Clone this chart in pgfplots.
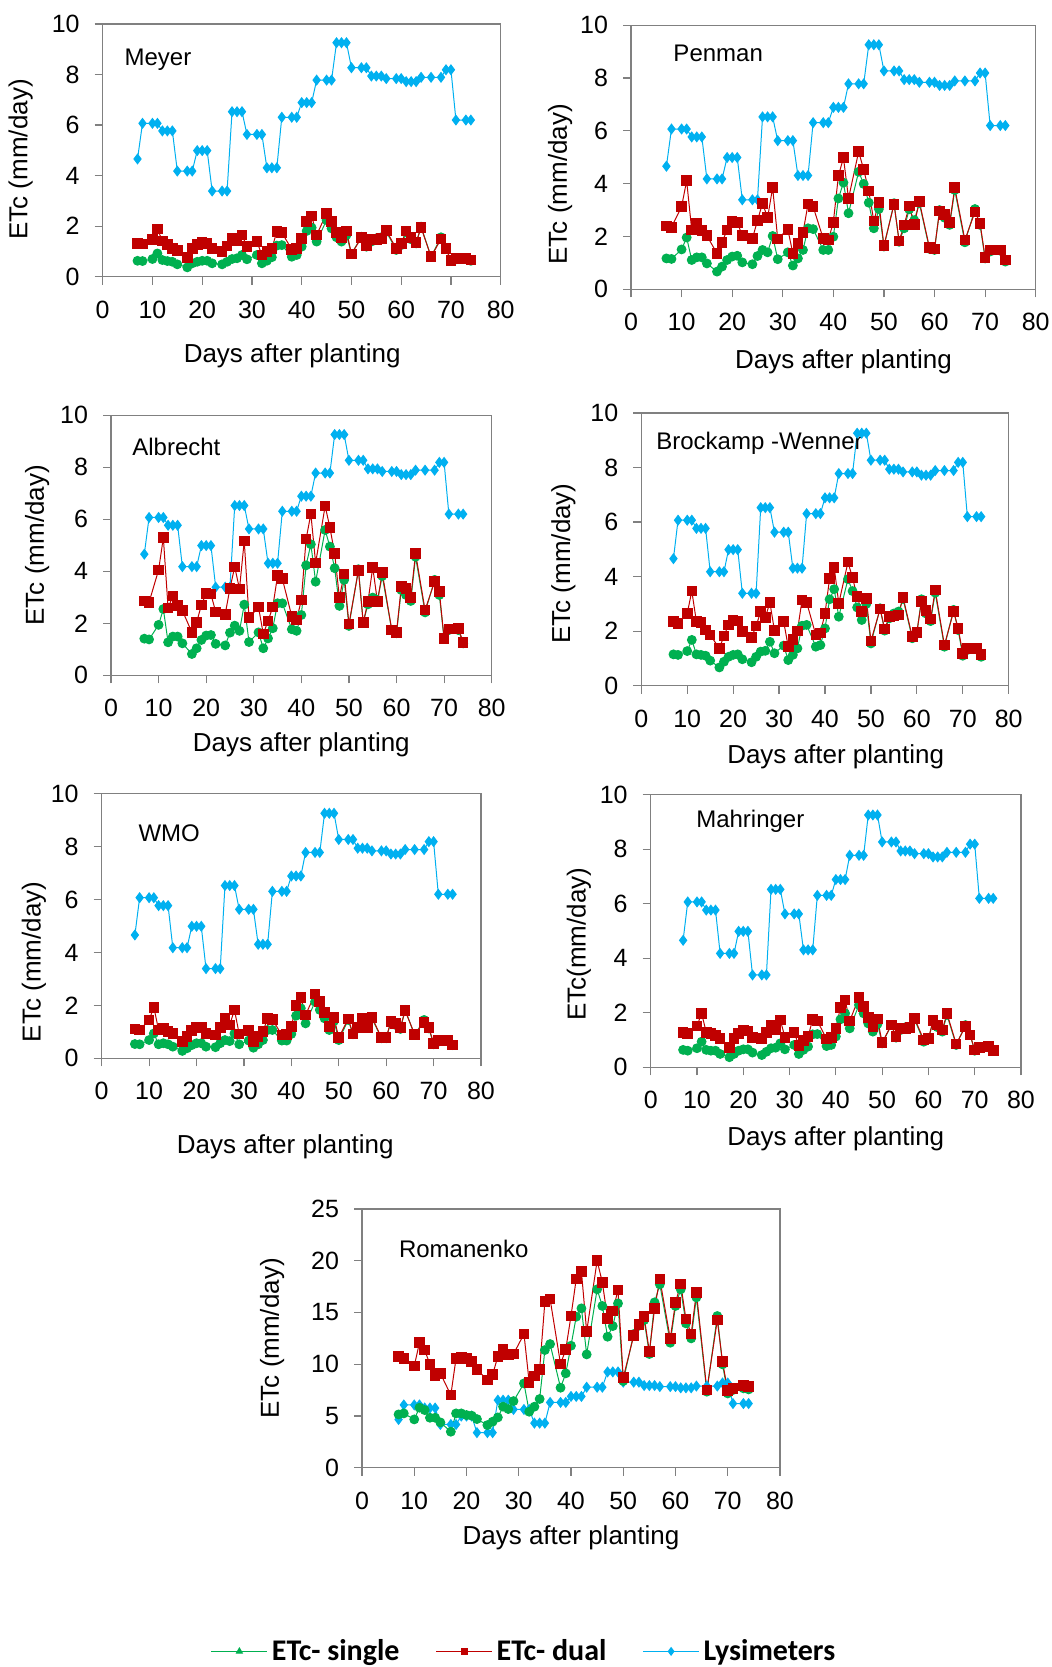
\documentclass[border=0pt]{standalone}
\usepackage{fontspec}
\setmainfont{Liberation Sans}
\newfontfamily\legfont{Carlito}
\usepackage{pgfplots}
\usepackage{pgfplotstable}
\pgfplotsset{compat=1.18}
\definecolor{cg}{RGB}{0,176,80}
\definecolor{cr}{RGB}{192,0,0}
\definecolor{cb}{RGB}{0,176,240}
\definecolor{fr}{RGB}{128,128,128}

\pgfplotstableread{
day lys
7 4.66
8 6.07
10 6.07
11 6.07
12 5.77
13 5.77
14 5.77
15 4.18
17 4.18
18 4.18
19 4.99
20 4.99
21 4.99
22 3.39
24 3.39
25 3.39
26 6.53
27 6.53
28 6.53
29 5.63
31 5.63
32 5.63
33 4.31
34 4.31
35 4.31
36 6.31
38 6.31
39 6.31
40 6.89
41 6.89
42 6.89
43 7.78
45 7.78
46 7.78
47 9.26
48 9.26
49 9.26
50 8.27
52 8.27
53 8.27
54 7.94
55 7.94
56 7.94
57 7.84
59 7.84
60 7.84
61 7.72
62 7.72
63 7.72
64 7.89
66 7.89
68 7.89
69 8.19
70 8.19
71 6.20
73 6.20
74 6.20
}\lystab

\pgfplotstableread{
day s d
7 0.63 1.32
8 0.62 1.29
10 0.70 1.48
11 0.92 1.89
12 0.66 1.41
13 0.62 1.28
14 0.59 1.12
15 0.49 1.03
17 0.37 0.77
18 0.53 1.12
19 0.59 1.28
20 0.63 1.35
21 0.63 1.32
22 0.53 1.12
24 0.49 0.99
25 0.59 1.21
26 0.70 1.52
27 0.73 1.42
28 0.86 1.65
29 0.69 1.19
31 0.86 1.39
32 0.53 0.86
33 0.63 0.99
34 0.77 1.12
35 1.23 1.78
36 1.25 1.75
38 0.79 1.08
39 0.86 1.12
40 1.19 1.52
41 1.81 2.18
42 1.94 2.41
43 1.39 1.65
45 2.24 2.51
46 1.91 2.18
47 1.56 1.75
48 1.39 1.56
49 1.65 1.81
50 0.90 0.90
52 1.58 1.54
53 1.19 1.23
54 1.39 1.48
55 1.52 1.45
56 1.56 1.52
57 1.78 1.82
59 1.06 1.12
60 1.25 1.32
61 1.75 1.81
62 1.48 1.54
63 1.32 1.36
64 1.98 1.95
66 0.79 0.79
68 1.56 1.49
69 1.12 1.12
70 0.63 0.63
71 0.69 0.73
73 0.73 0.73
74 0.63 0.66
}\meyer

\pgfplotstableread{
day s d
7 1.17 2.40
8 1.15 2.35
10 1.51 3.13
11 1.96 4.11
12 1.11 2.25
13 1.21 2.50
14 1.21 2.22
15 0.98 2.03
17 0.67 1.36
18 0.86 1.78
19 1.11 2.25
20 1.24 2.57
21 1.27 2.54
22 1.02 2.03
24 0.95 1.92
25 1.26 2.60
26 1.49 3.26
27 1.40 2.71
28 2.02 3.85
29 1.14 1.91
31 1.40 2.27
32 0.90 1.36
33 1.17 1.74
34 1.49 2.15
35 2.31 3.23
36 2.28 3.13
38 1.49 1.92
39 1.49 1.87
40 1.99 2.54
41 3.44 4.30
42 4.04 4.98
43 2.88 3.44
45 4.45 5.21
46 3.99 4.54
47 3.28 3.72
48 2.31 2.59
49 3.04 3.28
50 1.62 1.65
52 3.26 3.22
53 1.80 1.83
54 2.31 2.44
55 3.03 3.15
56 2.62 2.46
57 3.26 3.32
59 1.53 1.58
60 1.49 1.53
61 3.00 2.97
62 2.71 2.84
63 2.44 2.52
64 3.76 3.85
66 1.78 1.87
68 3.04 2.93
69 2.44 2.50
70 1.17 1.21
71 1.43 1.49
73 1.46 1.49
74 1.05 1.11
}\penman

\pgfplotstableread{
day s d
7 1.41 2.86
8 1.38 2.81
10 1.94 4.05
11 2.55 5.29
12 1.27 2.59
13 1.49 3.05
14 1.49 2.68
15 1.23 2.49
17 0.82 1.65
18 1.04 2.04
19 1.36 2.71
20 1.53 3.15
21 1.55 3.12
22 1.21 2.44
24 1.15 2.35
25 1.64 3.35
26 1.91 4.17
27 1.71 3.32
28 2.72 5.17
29 1.28 2.22
31 1.65 2.62
32 1.04 1.59
33 1.42 2.09
34 1.81 2.63
35 2.77 3.83
36 2.77 3.72
38 1.77 2.26
39 1.71 2.13
40 2.32 2.90
41 4.23 5.24
42 5.04 6.21
43 3.60 4.32
45 5.59 6.51
46 4.95 5.69
47 4.12 4.68
48 2.67 2.99
49 3.67 3.90
50 1.90 1.97
52 4.08 4.03
53 2.03 2.03
54 2.73 2.83
55 2.99 4.15
56 2.90 2.83
57 3.82 3.95
59 1.74 1.74
60 1.62 1.65
61 3.28 3.41
62 3.09 3.33
63 2.86 3.00
64 4.56 4.69
66 2.42 2.51
68 3.67 3.60
69 3.09 3.22
70 1.40 1.42
71 1.74 1.78
73 1.74 1.81
74 1.23 1.27
}\albrecht

\pgfplotstableread{
day s d
7 1.15 2.35
8 1.13 2.29
10 1.27 2.65
11 1.68 3.47
12 1.15 2.35
13 1.13 2.31
14 1.10 2.04
15 0.92 1.86
17 0.67 1.37
18 0.88 1.83
19 1.06 2.23
20 1.13 2.41
21 1.15 2.37
22 0.97 1.98
24 0.86 1.77
25 1.06 2.19
26 1.25 2.72
27 1.28 2.50
28 1.61 3.05
29 1.19 2.02
31 1.47 2.35
32 0.94 1.43
33 1.13 1.70
34 1.37 2.01
35 2.20 3.14
36 2.23 3.06
38 1.43 1.86
39 1.49 1.94
40 2.10 2.65
41 3.17 3.93
42 3.54 4.34
43 2.53 3.02
45 3.91 4.53
46 3.47 3.96
47 2.87 3.27
48 2.41 2.72
49 3.00 3.20
50 1.55 1.64
52 2.84 2.81
53 2.02 2.08
54 2.47 2.53
55 2.65 2.56
56 2.72 2.59
57 3.18 3.24
59 1.74 1.80
60 1.92 1.96
61 3.17 3.08
62 2.65 2.75
63 2.37 2.45
64 3.41 3.51
66 1.43 1.49
68 2.78 2.72
69 2.04 2.10
70 1.10 1.19
71 1.31 1.37
73 1.33 1.37
74 1.06 1.15
}\brockamp

\pgfplotstableread{
day s d
7 0.54 1.11
8 0.53 1.07
10 0.69 1.45
11 0.94 1.93
12 0.53 1.07
13 0.57 1.13
14 0.53 1.01
15 0.44 0.94
17 0.28 0.63
18 0.38 0.82
19 0.50 1.05
20 0.57 1.17
21 0.57 1.17
22 0.44 0.94
24 0.42 0.88
25 0.57 1.17
26 0.69 1.51
27 0.65 1.26
28 0.94 1.83
29 0.53 0.92
31 0.67 1.05
32 0.40 0.63
33 0.53 0.82
34 0.69 1.01
35 1.07 1.51
36 1.07 1.47
38 0.67 0.88
39 0.67 0.91
40 0.92 1.20
41 1.61 1.99
42 1.89 2.30
43 1.32 1.64
45 2.14 2.43
46 1.83 2.14
47 1.51 1.74
48 1.07 1.20
49 1.41 1.54
50 0.69 0.78
52 1.45 1.49
53 0.91 0.92
54 1.13 1.17
55 1.41 1.51
56 1.32 1.17
57 1.51 1.55
59 0.76 0.78
60 0.76 0.79
61 1.36 1.39
62 1.26 1.32
63 1.11 1.17
64 1.83 1.80
66 0.88 0.91
68 1.45 1.36
69 1.13 1.17
70 0.53 0.57
71 0.63 0.67
73 0.67 0.67
74 0.50 0.50
}\wmo

\pgfplotstableread{
day s d
7 0.64 1.28
8 0.61 1.25
10 0.70 1.52
11 0.94 1.98
12 0.64 1.28
13 0.61 1.25
14 0.61 1.16
15 0.49 1.06
17 0.37 0.73
18 0.49 1.06
19 0.61 1.25
20 0.66 1.35
21 0.66 1.33
22 0.54 1.10
24 0.45 1.06
25 0.57 1.27
26 0.70 1.53
27 0.72 1.37
28 0.88 1.74
29 0.66 1.10
31 0.82 1.28
32 0.49 0.80
33 0.64 0.98
34 0.76 1.13
35 1.21 1.76
36 1.22 1.70
38 0.78 1.04
39 0.82 1.10
40 1.13 1.43
41 1.76 2.20
42 1.98 2.47
43 1.43 1.70
45 2.29 2.57
46 1.98 2.23
47 1.61 1.83
48 1.31 1.49
49 1.59 1.77
50 0.88 0.91
52 1.55 1.55
53 1.09 1.13
54 1.37 1.43
55 1.47 1.43
56 1.49 1.47
57 1.76 1.80
59 0.94 1.00
60 1.03 1.06
61 1.68 1.71
62 1.47 1.55
63 1.31 1.37
64 1.92 1.98
66 0.82 0.86
68 1.55 1.49
69 1.19 1.19
70 0.61 0.64
71 0.70 0.73
73 0.73 0.76
74 0.61 0.61
}\mahringer

\pgfplotstableread{
day s d
7 5.15 10.73
8 5.25 10.57
10 4.67 9.83
11 5.80 12.08
12 5.57 11.37
13 4.83 9.99
14 4.83 8.89
15 4.38 9.12
17 3.48 7.02
18 5.25 10.57
19 5.25 10.66
20 5.09 10.57
21 5.03 10.24
22 4.70 9.50
24 4.12 8.47
25 4.45 9.02
26 4.86 10.73
27 5.90 11.47
28 5.67 10.89
29 6.44 10.99
31 8.15 12.92
32 5.41 8.25
33 5.90 8.86
34 6.64 9.50
35 11.37 16.04
36 11.95 16.30
38 7.73 10.02
39 9.12 11.44
40 11.79 14.66
41 14.59 18.23
42 15.40 18.94
43 10.95 13.14
45 17.24 20.01
46 15.63 17.91
47 12.66 14.43
48 13.69 15.14
49 15.88 17.17
50 8.38 8.70
52 12.92 12.76
53 13.72 13.85
54 14.27 14.59
55 10.99 11.21
56 15.98 15.40
57 17.72 18.23
59 12.08 12.47
60 15.63 15.95
61 17.24 17.75
62 13.95 14.37
63 12.50 12.92
64 16.46 16.95
66 7.35 7.51
68 14.66 14.27
69 9.99 10.24
70 7.18 7.44
71 7.51 7.67
73 7.67 7.93
74 7.57 7.83
}\romanenko

\pgfplotsset{
  panel/.style={
    scale only axis, xmin=0, xmax=80, ymin=0, ymax=10,
    xtick={0,10,...,80}, ytick={0,2,...,10},
    tick pos=left, tick align=outside, major tick length=4pt,
    axis line style={fr, line width=0.6pt},
    every tick/.style={fr, line width=0.6pt},
    /pgf/number format/assume math mode=true,
    tick label style={font=\fontsize{12.5}{14}\selectfont},
    xticklabel style={yshift=-4.5pt}, yticklabel style={xshift=-4pt},
    label style={font=\fontsize{13}{15}\selectfont},
    xlabel={Days after planting}, ylabel={ETc (mm/day)},
    anchor=south west,
  },
  lys/.style={cb, line width=0.5pt, mark=diamond*, mark size=2.4pt, mark options={solid}},
  sgl/.style={cg, line width=0.5pt, mark=*, mark size=2.2pt, mark options={solid}},
  dul/.style={cr, line width=0.5pt, mark=square*, mark size=2.4pt, mark options={solid}},
}
\tikzset{lbl/.style={anchor=west, font=\fontsize{12}{14}\selectfont, inner sep=0pt}}

\begin{document}
\begin{tikzpicture}
\path[use as bounding box] (0,0) rectangle (525.5pt,-833.5pt);

% Meyer
\begin{axis}[panel, at={(51.35pt,-138.35pt)}, width=199pt, height=126.35pt,
  xlabel style={at={(axis description cs:0.476,-0.314)}, anchor=center},
  ylabel style={at={(axis description cs:-0.206,0.464)}, anchor=center}]
\addplot[lys] table[x=day,y=lys]{\lystab};
\addplot[sgl] table[x=day,y=s]{\meyer};
\addplot[dul] table[x=day,y=d]{\meyer};
\node[lbl] at (rel axis cs:0.054,0.86) {Meyer};
\end{axis}

% Penman
\begin{axis}[panel, at={(315.5pt,-144.65pt)}, width=202.35pt, height=132.05pt,
  xlabel style={at={(axis description cs:0.525,-0.273)}, anchor=center},
  ylabel style={at={(axis description cs:-0.175,0.398)}, anchor=center}]
\addplot[lys] table[x=day,y=lys]{\lystab};
\addplot[sgl] table[x=day,y=s]{\penman};
\addplot[dul] table[x=day,y=d]{\penman};
\node[lbl] at (rel axis cs:0.104,0.895) {Penman};
\end{axis}

% Albrecht
\begin{axis}[panel, at={(55.5pt,-337.65pt)}, width=190.35pt, height=130pt,
  xlabel style={at={(axis description cs:0.5,-0.268)}, anchor=center},
  ylabel style={at={(axis description cs:-0.194,0.5)}, anchor=center}]
\addplot[lys] table[x=day,y=lys]{\lystab};
\addplot[sgl] table[x=day,y=s]{\albrecht};
\addplot[dul] table[x=day,y=d]{\albrecht};
\node[lbl] at (rel axis cs:0.055,0.88) {Albrecht};
\end{axis}

% Brockamp-Wenner
\begin{axis}[panel, at={(320.65pt,-342.85pt)}, width=183.7pt, height=136.35pt,
  xlabel style={at={(axis description cs:0.529,-0.261)}, anchor=center},
  ylabel style={at={(axis description cs:-0.212,0.448)}, anchor=center}]
\addplot[lys] table[x=day,y=lys]{\lystab};
\addplot[sgl] table[x=day,y=s]{\brockamp};
\addplot[dul] table[x=day,y=d]{\brockamp};
\node[lbl] at (rel axis cs:0.04,0.89) {Brockamp -Wenner};
\end{axis}

% WMO
\begin{axis}[panel, at={(50.85pt,-529.15pt)}, width=189.65pt, height=132.3pt,
  xlabel style={at={(axis description cs:0.484,-0.335)}, anchor=center},
  ylabel style={at={(axis description cs:-0.179,0.364)}, anchor=center}]
\addplot[lys] table[x=day,y=lys]{\lystab};
\addplot[sgl] table[x=day,y=s]{\wmo};
\addplot[dul] table[x=day,y=d]{\wmo};
\node[lbl] at (rel axis cs:0.096,0.851) {WMO};
\end{axis}

% Mahringer
\begin{axis}[panel, at={(325.35pt,-533.65pt)}, width=185.15pt, height=136.25pt,
  ylabel={ETc(mm/day)},
  xlabel style={at={(axis description cs:0.5,-0.262)}, anchor=center},
  ylabel style={at={(axis description cs:-0.194,0.452)}, anchor=center}]
\addplot[lys] table[x=day,y=lys]{\lystab};
\addplot[sgl] table[x=day,y=s]{\mahringer};
\addplot[dul] table[x=day,y=d]{\mahringer};
\node[lbl] at (rel axis cs:0.122,0.902) {Mahringer};
\end{axis}

% Romanenko
\begin{axis}[panel, at={(181pt,-733.85pt)}, width=209pt, height=129.35pt,
  ymax=25, ytick={0,5,...,25},
  xlabel style={at={(axis description cs:0.5,-0.272)}, anchor=center},
  ylabel style={at={(axis description cs:-0.215,0.5)}, anchor=center},
  legend columns=3,
  legend image code/.code={\draw[mark repeat=2,mark phase=2,#1] plot coordinates {(0pt,0pt)(14pt,0pt)(28pt,0pt)};},
  legend style={draw=none, fill=none, at={(axis description cs:0.39,-0.71)}, anchor=center,
    inner sep=0pt, font=\legfont\bfseries\fontsize{15}{17}\selectfont,
    /tikz/every even column/.append style={column sep=16pt}}]
\addlegendimage{cg, line width=0.6pt, mark=triangle*, mark size=1.6pt, mark options={solid}}
\addlegendentry{ETc- single}
\addlegendimage{cr, line width=0.6pt, mark=square*, mark size=1.5pt, mark options={solid}}
\addlegendentry{ETc- dual}
\addlegendimage{cb, line width=0.6pt, mark=diamond*, mark size=1.8pt, mark options={solid}}
\addlegendentry{Lysimeters}
\addplot[lys, forget plot] table[x=day,y=lys]{\lystab};
\addplot[sgl, forget plot] table[x=day,y=s]{\romanenko};
\addplot[dul, forget plot] table[x=day,y=d]{\romanenko};
\node[lbl] at (rel axis cs:0.0876,0.845) {Romanenko};
\end{axis}
\end{tikzpicture}
\end{document}
